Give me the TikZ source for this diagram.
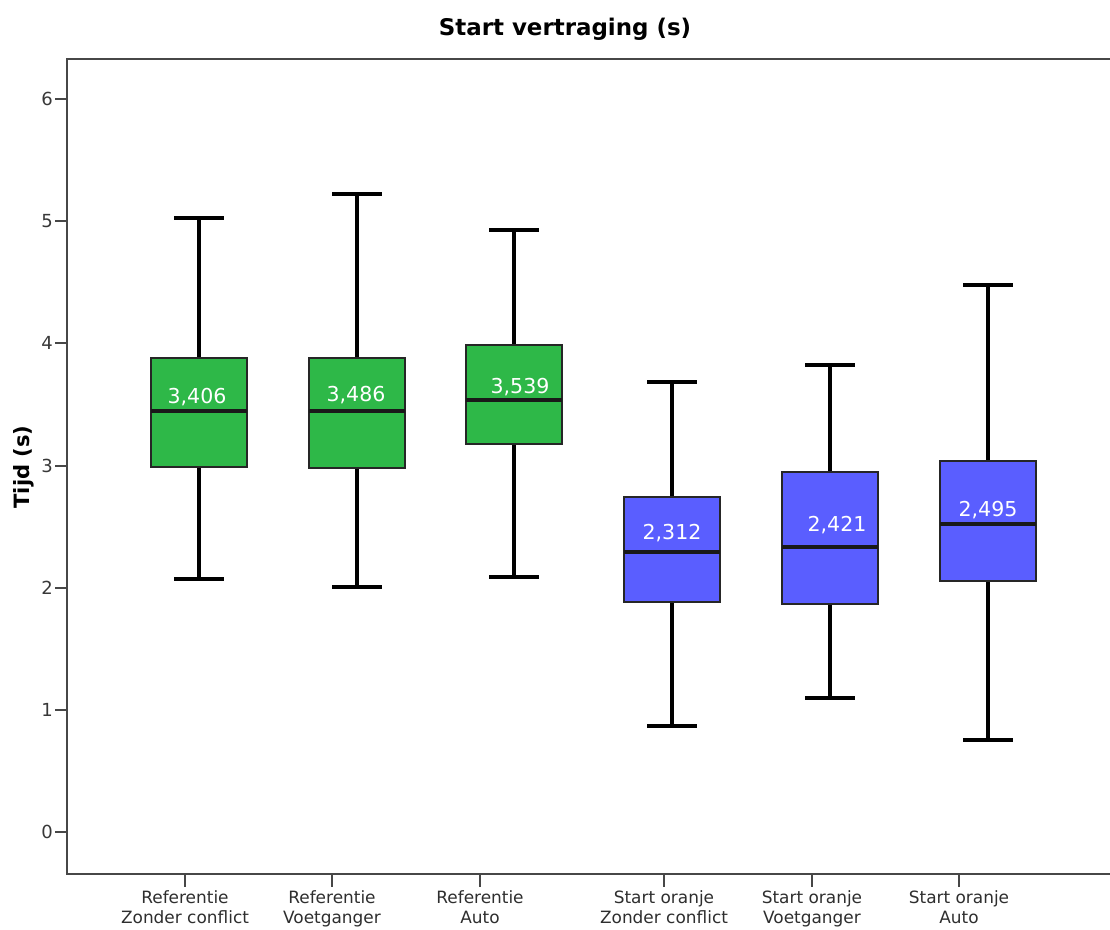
\documentclass[tikz,border=0pt]{standalone}
\usepackage{fontspec}
\setmainfont{DejaVu Sans}
\begin{document}
\begin{tikzpicture}[x=0.75pt,y=-0.75pt,
  frame/.style={draw=black!72,line width=2pt},
  whisk/.style={draw=black,line width=2.3pt},
  boxg/.style={draw=black!85,line width=1.8pt,fill=grn},
  boxb/.style={draw=black!85,line width=1.8pt,fill=blu},
  med/.style={draw=black!90,line width=2.6pt},
  val/.style={text=white,font=\fontsize{15.4pt}{18pt}\selectfont,inner sep=0pt},
  ytl/.style={anchor=east,font=\fontsize{13.5pt}{15pt}\selectfont,text=black!78,inner sep=0pt},
  cat/.style={anchor=north,align=center,font=\fontsize{12.7pt}{15pt}\selectfont,text=black!82,inner sep=0pt},
  ttl/.style={font=\bfseries\fontsize{17.2pt}{20pt}\selectfont,inner sep=0pt},
  ylab/.style={font=\bfseries\fontsize{15.8pt}{19pt}\selectfont,inner sep=0pt,rotate=90}]
\definecolor{grn}{HTML}{2EB848}
\definecolor{blu}{HTML}{5A5EFF}
\useasboundingbox (0,0) rectangle (1110,929);
% frame
\coordinate (tl) at (67,59);
\coordinate (tr) at (1110,59);
\coordinate (bl) at (67,874);
\coordinate (br) at (1110,874);
\draw[frame] (tr) -- (tl) -- (bl) -- (br);
% y ticks
\foreach \v/\py in {6/99,5/221,4/343,3/466,2/588,1/710,0/832}{
  \draw[frame] (55,\py) -- (67,\py);
  \node[ytl] (yt\v) at (53,\py) {\v};
}
% x ticks and category labels
\foreach \i/\px/\a/\b in {1/185/Referentie/Zonder conflict,2/332/Referentie/Voetganger,3/480/Referentie/Auto,4/664/Start oranje/Zonder conflict,5/812/Start oranje/Voetganger,6/959/Start oranje/Auto}{
  \draw[frame] (\px,874) -- (\px,887);
  \node[cat] (cat\i) at (\px,890) {\a\\\b};
}
% title and axis label
\node[ttl] (title) at (565,29) {Start vertraging (s)};
\node[ylab] (ylabel) at (24,467) {Tijd (s)};
% box plots
\newcommand{\bplt}[9]{%
  % #1 cx, #2 top, #3 bottom, #4 median, #5 hi, #6 lo, #7 style, #8 label, #9 label pos
  \draw[whisk] (#1-25,#5) -- (#1+25,#5);
  \draw[whisk] (#1,#5) -- (#1,#2);
  \draw[whisk] (#1-25,#6) -- (#1+25,#6);
  \draw[whisk] (#1,#6) -- (#1,#3);
  \draw[#7] (#1-48,#2) rectangle (#1+48,#3);
  \draw[med] (#1-48,#4) -- (#1+48,#4);
  \node[val] at (#9) {#8};
}
\bplt{199}{358}{467}{411}{218}{579}{boxg}{3,406}{197,397}
\bplt{357}{358}{468}{411}{194}{587}{boxg}{3,486}{356,395}
\bplt{514}{345}{444}{400}{230}{577}{boxg}{3,539}{520,387}
\bplt{672}{497}{602}{552}{382}{726}{boxb}{2,312}{672,533}
\bplt{830}{472}{604}{547}{365}{698}{boxb}{2,421}{837,525}
\bplt{988}{461}{581}{524}{285}{740}{boxb}{2,495}{988,510}
\end{tikzpicture}
\end{document}
